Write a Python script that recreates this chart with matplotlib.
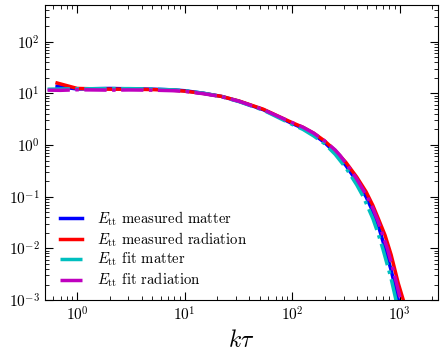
import matplotlib
matplotlib.use('Agg')
from matplotlib import pyplot as plt

plt.rcParams['font.family'] = 'serif'
plt.rcParams['font.serif'] = ['cmr10']
plt.rcParams['mathtext.fontset'] = 'cm'
plt.rcParams['axes.formatter.use_mathtext'] = True

# measured matter
k_mm = [0.65, 1.0, 2.0, 3.0, 5.0, 8.0, 10, 15, 22, 32, 54, 100, 126, 158, 200,
        251, 316, 398, 486, 562, 631, 730, 832, 970, 1000]
E_mm = [13.6, 12.1, 12.4, 12.2, 12.0, 11.6, 11.2, 10.0, 8.7, 7.0, 4.8, 2.6, 2.1, 1.6, 1.12,
        0.71, 0.40, 0.20, 0.10, 0.052, 0.028, 0.010, 0.0038, 0.001, 0.00065]

# measured radiation
k_mr = [0.65, 1.0, 2.0, 3.0, 5.0, 8.0, 10, 15, 22, 32, 54, 100, 126, 158, 200,
        251, 316, 398, 486, 562, 631, 730, 832, 970, 1080, 1120]
E_mr = [15.8, 12.4, 12.0, 12.0, 11.8, 11.4, 11.0, 9.9, 8.7, 7.1, 4.9, 2.7, 2.2, 1.7, 1.2,
        0.78, 0.46, 0.24, 0.125, 0.068, 0.038, 0.018, 0.0075, 0.0021, 0.001, 0.0007]

# fit matter
k_fm = [0.53, 0.7, 1.0, 2.0, 3.0, 5.0, 8.0, 10, 15, 22, 32, 54, 100, 126, 158, 200,
        251, 316, 398, 458, 562, 631, 695, 832, 923, 980]
E_fm = [12.0, 12.1, 12.2, 12.3, 12.3, 12.1, 11.6, 11.2, 10.0, 8.6, 6.9, 4.7, 2.5, 2.0, 1.5, 1.06,
        0.66, 0.36, 0.17, 0.1, 0.038, 0.019, 0.01, 0.0026, 0.001, 0.0006]

# fit radiation
k_fr = [0.53, 0.7, 1.0, 2.0, 3.0, 5.0, 8.0, 10, 15, 22, 32, 54, 100, 126, 158, 200,
        251, 280, 316, 350, 398, 499, 562, 631, 767, 880, 1020, 1060]
E_fr = [11.5, 11.4, 11.7, 11.5, 11.6, 11.5, 11.2, 10.9, 9.8, 8.6, 7.0, 4.8, 2.7, 2.2, 1.7, 1.2,
        0.8, 0.62, 0.44, 0.33, 0.22, 0.1, 0.06, 0.033, 0.01, 0.0035, 0.001, 0.0007]

fig = plt.figure(figsize=(4.44, 3.56), dpi=100)
ax = fig.add_axes([0.101, 0.157, 0.885, 0.829])

ax.plot(k_mm, E_mm, '-', color='b', lw=2.5, label=r'$E_{\rm tt}$ measured matter')
ax.plot(k_mr, E_mr, '-', color='r', lw=2.5, label=r'$E_{\rm tt}$ measured radiation')
ax.plot(k_fm, E_fm, '-.', color='c', lw=2.5, label=r'$E_{\rm tt}$ fit matter')
ax.plot(k_fr, E_fr, '-.', color='m', lw=2.5, label=r'$E_{\rm tt}$ fit radiation')

ax.set_xscale('log')
ax.set_yscale('log')
ax.set_xlim(0.5, 2260)
ax.set_ylim(1e-3, 510)
ax.set_xlabel(r'$k\tau$', fontsize=17, labelpad=5)
ax.tick_params(which='both', direction='in', top=True, right=True, labelsize=11)
ax.tick_params(which='major', length=6)
ax.tick_params(which='minor', length=3)

ax.legend(loc='lower left', frameon=False, fontsize=10.6, handlelength=1.5,
          handletextpad=1.0, labelspacing=0.16, bbox_to_anchor=(0.005, -0.008))

fig.savefig('out.png', dpi=100)
